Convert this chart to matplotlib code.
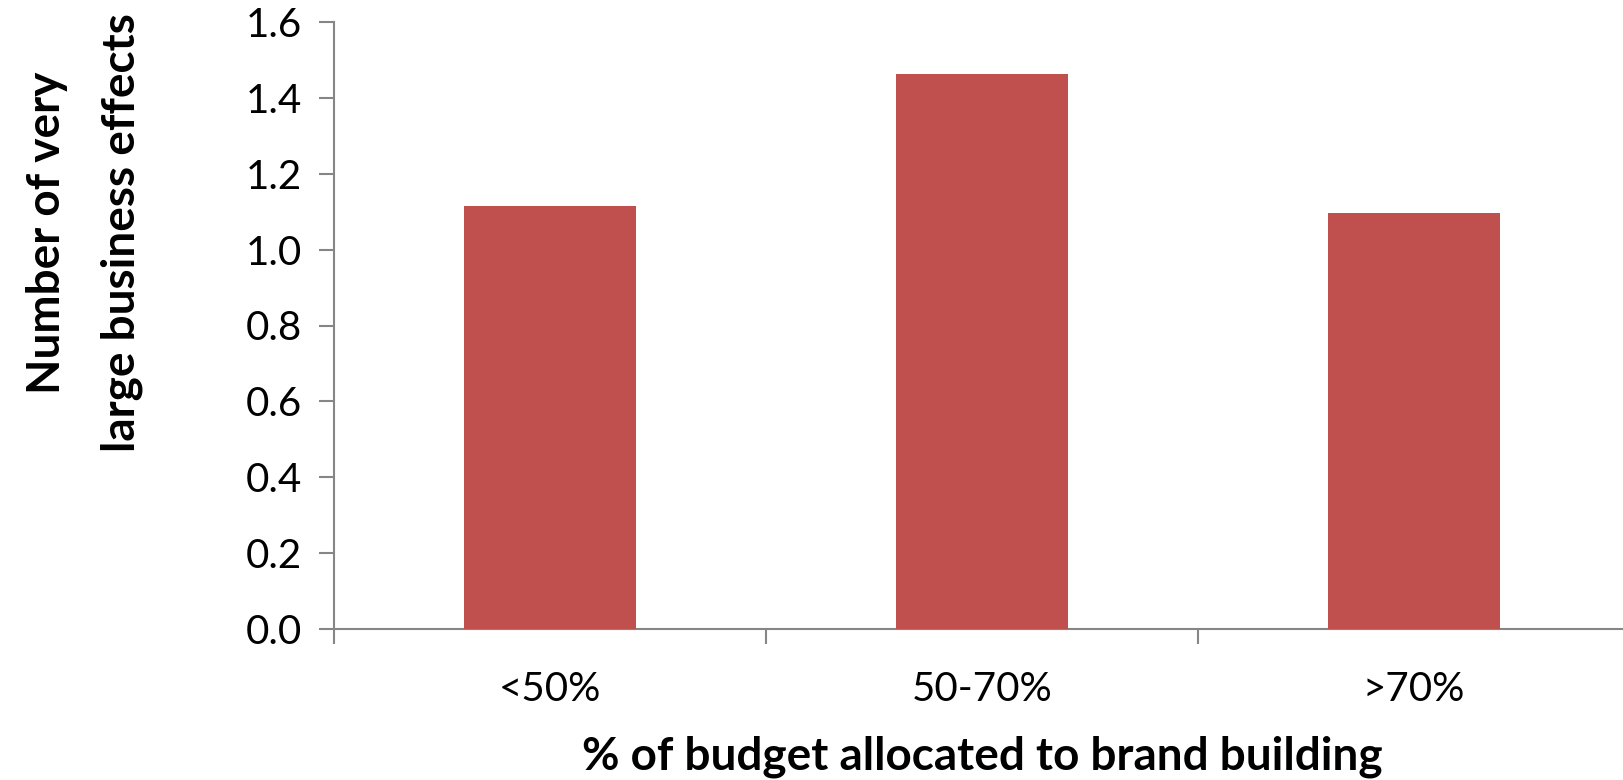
import matplotlib.pyplot as plt
import numpy as np

categories = ['<50%', '50-70%', '>70%']
values = [1.116, 1.464, 1.096]
y_ticks = [0.0, 0.2, 0.4, 0.6, 0.8, 1.0, 1.2, 1.4, 1.6]
y_label_lines = ['Number of very', 'large business effects']

plt.rcParams['font.family'] = ['Lato', 'DejaVu Sans']

fig = plt.figure(figsize=(16.24, 7.8), dpi=100)
ax = fig.add_axes([334 / 1624, 1 - 629 / 780, 1296 / 1624, 607 / 780])

x = np.arange(len(categories))
ax.bar(x, values, width=0.4, color='#C0504D', zorder=3)

ax.set_xlim(-0.5, len(categories) - 0.5)
ax.set_ylim(0, 1.6)

axis_grey = '#868686'
for side in ['top', 'right']:
    ax.spines[side].set_visible(False)
for side in ['left', 'bottom']:
    ax.spines[side].set_color(axis_grey)
    ax.spines[side].set_linewidth(1.5)

ax.set_yticks(y_ticks)
ax.set_yticklabels([f'{v:.1f}' for v in y_ticks])
ax.tick_params(axis='y', direction='out', length=11, width=1.5, color=axis_grey,
               labelsize=29, pad=12)

# major ticks between categories, labels on minor ticks at centres
ax.set_xticks(np.arange(-0.5, len(categories), 1.0))
ax.set_xticklabels([])
ax.set_xticks(x, minor=True)
ax.set_xticklabels(categories, minor=True)
ax.tick_params(axis='x', which='major', direction='out', length=11, width=1.5, color=axis_grey)
ax.tick_params(axis='x', which='minor', length=0, labelsize=29, pad=30)

ax.set_xlabel('% of budget allocated to brand building', fontsize=33,
              fontweight='bold', labelpad=20)

# two-line y label, placed by hand like the original
fig.text(47 / 1624, 1 - 233 / 780, y_label_lines[0], rotation=90, fontsize=33,
         fontweight='bold', ha='center', va='center')
fig.text(122 / 1624, 1 - 233 / 780, y_label_lines[1], rotation=90, fontsize=33,
         fontweight='bold', ha='center', va='center')

fig.savefig('out.png', dpi=100)
